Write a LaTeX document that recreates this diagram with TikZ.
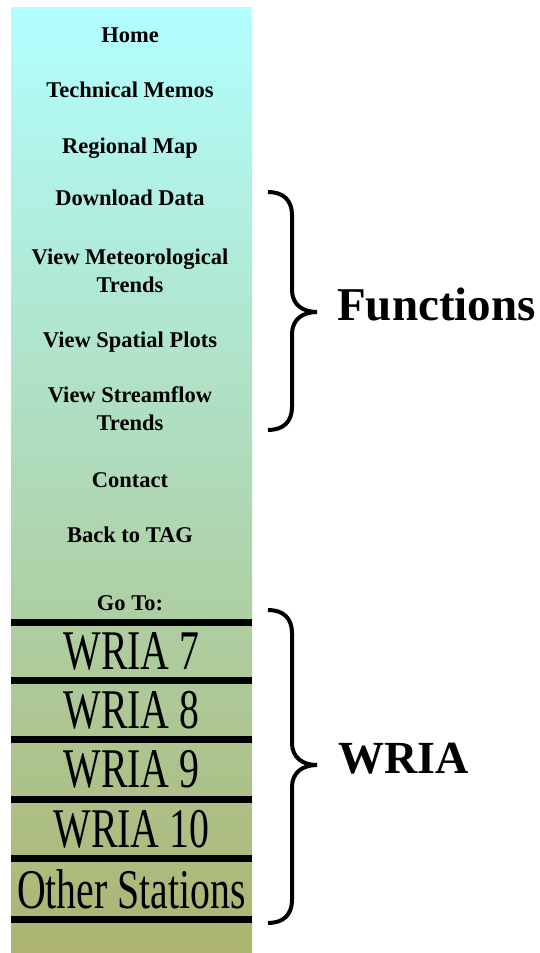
\documentclass[tikz,border=0pt]{standalone}
\usepackage{fontspec}
\setmainfont{Liberation Serif}

\definecolor{menutop}{RGB}{178,255,255}
\definecolor{menubot}{RGB}{172,180,112}

\begin{document}
\begin{tikzpicture}[x=1pt, y=1pt,
        menuitem/.style={font=\fontsize{22.5}{28}\selectfont\bfseries, align=center, anchor=base, inner sep=0pt},
        station/.style={font=\fontsize{56}{60}\selectfont, xscale=0.71, inner sep=0pt},
        bar/.style={line width=7pt, black},
        bracket/.style={line width=4pt, black},
        group_label/.style={font=\fontsize{47}{50}\selectfont\bfseries, anchor=base west, inner sep=0pt}
    ]
    \useasboundingbox (0,0) rectangle (540,-953);

    % menu panel
    \shade[top color=menutop, bottom color=menubot] (11,-7) rectangle (252,-953);

    \node[menuitem] (home) at (130,-42) {Home};
    \node[menuitem] (memos) at (130,-97) {Technical Memos};
    \node[menuitem] (map) at (130,-153) {Regional Map};
    \node[menuitem] (download) at (130,-205) {Download Data};
    \node[menuitem] (meteo) at (130,-292) {View Meteorological\\Trends};
    \node[menuitem] (spatial) at (130,-347) {View Spatial Plots};
    \node[menuitem] (stream) at (130,-430) {View Streamflow\\Trends};
    \node[menuitem] (contact) at (130,-487) {Contact};
    \node[menuitem] (tag) at (130,-542) {Back to TAG};
    \node[menuitem] (goto) at (130,-610) {Go To:};

    % station buttons
    \draw[bar] (11,-622) -- (252,-622);
    \draw[bar] (11,-680) -- (252,-680);
    \draw[bar] (11,-739) -- (252,-739);
    \draw[bar] (11,-799) -- (252,-799);
    \draw[bar] (11,-858) -- (252,-858);
    \draw[bar] (11,-919) -- (252,-919);

    \node[station] (w7) at (131.5,-651) {WRIA 7};
    \node[station] (w8) at (131.5,-710) {WRIA 8};
    \node[station] (w9) at (131.5,-769) {WRIA 9};
    \node[station] (w10) at (131.5,-829) {WRIA 10};
    \node[station] (other) at (131.5,-889) {Other Stations};

    % braces
    \draw[bracket] (268,-192) .. controls (283,-192) and (292,-200) .. (292,-215) -- (292,-290)
        .. controls (292,-304) and (302,-312) .. (317,-312)
        .. controls (302,-312) and (292,-320) .. (292,-334) -- (292,-407)
        .. controls (292,-422) and (283,-430) .. (268,-430);
    \draw[bracket] (268,-610) .. controls (283,-610) and (292,-618) .. (292,-633) -- (292,-743)
        .. controls (292,-757) and (302,-765) .. (317,-765)
        .. controls (302,-765) and (292,-773) .. (292,-787) -- (292,-900)
        .. controls (292,-915) and (283,-923) .. (268,-923);

    \node[group_label] (functions) at (337,-320) {Functions};
    \node[group_label, font=\fontsize{46}{50}\selectfont\bfseries] (wria) at (338,-773) {WRIA};
\end{tikzpicture}
\end{document}
